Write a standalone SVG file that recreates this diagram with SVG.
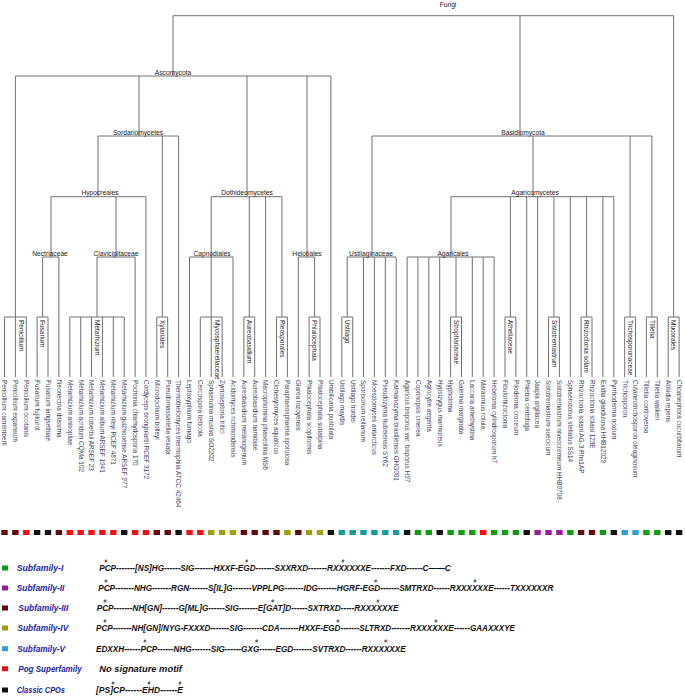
<svg xmlns="http://www.w3.org/2000/svg" width="685" height="696" viewBox="0 0 685 696">
<style>
.e{fill:none;stroke:#707070;stroke-width:1}
.in{font-family:"Liberation Sans",Arial,sans-serif;font-size:6.7px;fill:#222;text-anchor:middle}
.gl{font-family:"Liberation Sans",Arial,sans-serif;font-size:6.5px;fill:#222}
.leaf{font-family:"Liberation Sans",Arial,sans-serif;font-size:6.4px;fill:#3e4466}
.lg{font-family:"Liberation Sans",Arial,sans-serif;font-size:9px;font-weight:bold;font-style:italic;fill:#2424a0}
.mt{font-family:"Liberation Sans",Arial,sans-serif;font-size:9px;font-weight:bold;font-style:italic;fill:#111}
.hs{font-family:"Liberation Sans",Arial,sans-serif;font-size:5px;fill:#111;text-anchor:middle}
.M{fill:#620808}.R{fill:#fe0a0a}.K{fill:#111}.O{fill:#a09e00}.T{fill:#129c9c}.G{fill:#0c9c0c}.P{fill:#9c189c}.B{fill:#2a9fd8}
</style>
<rect width="685" height="696" fill="#fff"/>
<g id="connectors">
<path class="e" d="M173,15.7H673.6M173,15.7V76M520,15.7V136M673.6,15.7V317"/>
<path class="e" d="M15.4,76H330.9M15.4,76V317M139,76V136M247,76V196.7M307,76V257M330.9,76V377"/>
<path class="e" d="M4.5,317H26.3M4.5,317V377M15.4,317V377M26.3,317V377"/>
<path class="e" d="M98,136H178.6M98,136V196.7M162.3,136V317M178.6,136V377"/>
<path class="e" d="M51,196.7H145.9M51,196.7V257M116,196.7V257M145.9,196.7V377"/>
<path class="e" d="M42.6,257H58.9M42.6,257V317M58.9,257V377M37.1,317H48M37.1,317V377M48,317V377"/>
<path class="e" d="M97,257H135.1M97,257V317M135.1,257V377M69.8,317H124.2M69.8,317V377M80.7,317V377M91.5,317V377M102.4,317V377M113.3,317V377M124.2,317V377"/>
<path class="e" d="M156.8,317H167.7M156.8,317V377M167.7,317V377"/>
<path class="e" d="M211.2,196.7H281.9M211.2,196.7V257M249.3,196.7V317M265.6,196.7V377M281.9,196.7V317"/>
<path class="e" d="M189.5,257H233M189.5,257V377M211.2,257V317M233,257V377M200.3,317H222.1M200.3,317V377M211.2,317V377M222.1,317V377"/>
<path class="e" d="M243.9,317H254.7M243.9,317V377M254.7,317V377M276.5,317H287.4M276.5,317V377M287.4,317V377"/>
<path class="e" d="M298.3,257H314.6M298.3,257V377M314.6,257V317M309.1,317H320M309.1,317V377M320,317V377"/>
<path class="e" d="M372,136H651.9M372,136V257M533,136V196.7M630.1,136V317M651.9,136V317"/>
<path class="e" d="M347.2,257H396.2M347.2,257V317M363.5,257V377M374.4,257V377M385.3,257V377M396.2,257V377M341.8,317H352.7M341.8,317V377M352.7,317V377"/>
<path class="e" d="M451,196.7H613.8M451,196.7V257M510.4,196.7V317M526.7,196.7V377M537.6,196.7V377M553.9,196.7V317M570.3,196.7V377M586.6,196.7V317M602.9,196.7V377M613.8,196.7V377"/>
<path class="e" d="M407.1,257H494.1M407.1,257V377M417.9,257V377M428.8,257V377M439.7,257V377M456,257V317M472.3,257V377M483.2,257V377M494.1,257V377M450.6,317H461.5M450.6,317V377M461.5,317V377"/>
<path class="e" d="M505,317H515.9M505,317V377M515.9,317V377M548.5,317H559.4M548.5,317V377M559.4,317V377M581.1,317H592M581.1,317V377M592,317V377"/>
<path class="e" d="M624.7,317H635.5M624.7,317V377M635.5,317V377M646.4,317H657.3M646.4,317V377M657.3,317V377M668.2,317H679.1M668.2,317V377M679.1,317V377"/>
</g>
<g id="node-fungi"><text class="in" x="448" y="7">Fungi</text></g>
<g id="node-ascomycota"><text class="in" x="173" y="74.5">Ascomycota</text></g>
<g id="node-basidiomycota"><text class="in" x="523" y="134.5">Basidiomycota</text></g>
<g id="node-sordariomycetes"><text class="in" x="138" y="134.5">Sordariomycetes</text></g>
<g id="node-hypocreales"><text class="in" x="100" y="195.2">Hypocreales</text></g>
<g id="node-dothideomycetes"><text class="in" x="247" y="195.2">Dothideomycetes</text></g>
<g id="node-agaricomycetes"><text class="in" x="535" y="195.2">Agaricomycetes</text></g>
<g id="node-nectriaceae"><text class="in" x="50" y="255.5">Nectriaceae</text></g>
<g id="node-clavicipitaceae"><text class="in" x="116" y="255.5">Clavicipitaceae</text></g>
<g id="node-capnodiales"><text class="in" x="212" y="255.5">Capnodiales</text></g>
<g id="node-helotiales"><text class="in" x="307" y="255.5">Helotiales</text></g>
<g id="node-ustilaginaceae"><text class="in" x="371" y="255.5">Ustilaginaceae</text></g>
<g id="node-agaricales"><text class="in" x="453" y="255.5">Agaricales</text></g>
<g id="group-labels">
<g id="node-penicillium"><text class="gl" transform="translate(18.6,320) rotate(90)">Penicillium</text></g>
<g id="node-fusarium"><text class="gl" transform="translate(40.4,320) rotate(90)">Fusarium</text></g>
<g id="node-metarhizium"><text class="gl" transform="translate(94.8,320) rotate(90)">Metarhizium</text></g>
<g id="node-xylariales"><text class="gl" transform="translate(160.1,320) rotate(90)">Xylariales</text></g>
<g id="node-mycosphaerellaceae"><text class="gl" transform="translate(214.5,320) rotate(90)">Mycosphaerellaceae</text></g>
<g id="node-aureobasidium"><text class="gl" transform="translate(247.1,320) rotate(90)">Aureobasidium</text></g>
<g id="node-pleosporales"><text class="gl" transform="translate(279.7,320) rotate(90)">Pleosporales</text></g>
<g id="node-phialocephala"><text class="gl" transform="translate(312.4,320) rotate(90)">Phialocephala</text></g>
<g id="node-ustilago"><text class="gl" transform="translate(345,320) rotate(90)">Ustilago</text></g>
<g id="node-strophariaceae"><text class="gl" transform="translate(453.8,320) rotate(90)">Strophariaceae</text></g>
<g id="node-atheliaceae"><text class="gl" transform="translate(508.2,320) rotate(90)">Atheliaceae</text></g>
<g id="node-sistotremastrum"><text class="gl" transform="translate(551.7,320) rotate(90)">Sistotremastrum</text></g>
<g id="node-rhizoctonia"><text class="gl" transform="translate(584.4,320) rotate(90)">Rhizoctonia solani</text></g>
<g id="node-trichosporonaceae"><text class="gl" transform="translate(627.9,320) rotate(90)">Trichosporonaceae</text></g>
<g id="node-tilletia"><text class="gl" transform="translate(649.7,320) rotate(90)">Tilletia</text></g>
<g id="node-mucorales"><text class="gl" transform="translate(671.4,320) rotate(90)">Mucorales</text></g>
</g>
<g id="leaves">
<g id="leaf-00"><text class="leaf" transform="translate(2.3,380) rotate(90)">Penicillium camemberti</text></g>
<g id="leaf-01"><text class="leaf" transform="translate(13.2,380) rotate(90)">Penicillium expansum</text></g>
<g id="leaf-02"><text class="leaf" transform="translate(24.1,380) rotate(90)">Penicillium occitanis</text></g>
<g id="leaf-03"><text class="leaf" transform="translate(34.9,380) rotate(90)">Fusarium fujikuroi</text></g>
<g id="leaf-04"><text class="leaf" transform="translate(45.8,380) rotate(90)">Fusarium langsethiae</text></g>
<g id="leaf-05"><text class="leaf" transform="translate(56.7,380) rotate(90)">Neonectria ditissima</text></g>
<g id="leaf-06"><text class="leaf" transform="translate(67.6,380) rotate(90)">Metarhizium anisopliae</text></g>
<g id="leaf-07"><text class="leaf" transform="translate(78.5,380) rotate(90)">Metarhizium acridum CQMa 102</text></g>
<g id="leaf-08"><text class="leaf" transform="translate(89.3,380) rotate(90)">Metarhizium robertsii ARSEF 23</text></g>
<g id="leaf-09"><text class="leaf" transform="translate(100.2,380) rotate(90)">Metarhizium album ARSEF 1941</text></g>
<g id="leaf-10"><text class="leaf" transform="translate(111.1,380) rotate(90)">Metarhizium rileyi RCEF 4871</text></g>
<g id="leaf-11"><text class="leaf" transform="translate(122,380) rotate(90)">Metarhizium guizhouense ARSEF 977</text></g>
<g id="leaf-12"><text class="leaf" transform="translate(132.9,380) rotate(90)">Pochonia chlamydosporia 170</text></g>
<g id="leaf-13"><text class="leaf" transform="translate(143.7,380) rotate(90)">Cordyceps brongniartii RCEF 3172</text></g>
<g id="leaf-14"><text class="leaf" transform="translate(154.6,380) rotate(90)">Microdochium bolleyi</text></g>
<g id="leaf-15"><text class="leaf" transform="translate(165.5,380) rotate(90)">Pseudomassariella vexata</text></g>
<g id="leaf-16"><text class="leaf" transform="translate(176.4,380) rotate(90)">Thermothelomyces thermophila ATCC 42464</text></g>
<g id="leaf-17"><text class="leaf" transform="translate(187.3,380) rotate(90)">Leptoxyphium fumago</text></g>
<g id="leaf-18"><text class="leaf" transform="translate(198.1,380) rotate(90)">Cercospora beticola</text></g>
<g id="leaf-19"><text class="leaf" transform="translate(209,380) rotate(90)">Sphaerulina musiva SO2202</text></g>
<g id="leaf-20"><text class="leaf" transform="translate(219.9,380) rotate(90)">Zymoseptoria tritici</text></g>
<g id="leaf-21"><text class="leaf" transform="translate(230.8,380) rotate(90)">Acidomyces richmondensis</text></g>
<g id="leaf-22"><text class="leaf" transform="translate(241.7,380) rotate(90)">Aureobasidium melanogenum</text></g>
<g id="leaf-23"><text class="leaf" transform="translate(252.5,380) rotate(90)">Aureobasidium namibiae</text></g>
<g id="leaf-24"><text class="leaf" transform="translate(263.4,380) rotate(90)">Macrophomina phaseolina MS6</text></g>
<g id="leaf-25"><text class="leaf" transform="translate(274.3,380) rotate(90)">Clohesyomyces aquaticus</text></g>
<g id="leaf-26"><text class="leaf" transform="translate(285.2,380) rotate(90)">Paraphaeosphaeria sporulosa</text></g>
<g id="leaf-27"><text class="leaf" transform="translate(296.1,380) rotate(90)">Glarea lozoyensis</text></g>
<g id="leaf-28"><text class="leaf" transform="translate(306.9,380) rotate(90)">Phialocephala scopiformis</text></g>
<g id="leaf-29"><text class="leaf" transform="translate(317.8,380) rotate(90)">Phialocephala subalpina</text></g>
<g id="leaf-30"><text class="leaf" transform="translate(328.7,380) rotate(90)">Umbilicaria pustulata</text></g>
<g id="leaf-31"><text class="leaf" transform="translate(339.6,380) rotate(90)">Ustilago maydis</text></g>
<g id="leaf-32"><text class="leaf" transform="translate(350.5,380) rotate(90)">Ustilago hordei</text></g>
<g id="leaf-33"><text class="leaf" transform="translate(361.3,380) rotate(90)">Sporisorium reilianum</text></g>
<g id="leaf-34"><text class="leaf" transform="translate(372.2,380) rotate(90)">Moesziomyces antarcticus</text></g>
<g id="leaf-35"><text class="leaf" transform="translate(383.1,380) rotate(90)">Pseudozyma hubeiensis SY62</text></g>
<g id="leaf-36"><text class="leaf" transform="translate(394,380) rotate(90)">Kalmanozyma brasiliensis GHG001</text></g>
<g id="leaf-37"><text class="leaf" transform="translate(404.9,380) rotate(90)">Agaricus bisporus var. bisporus H97</text></g>
<g id="leaf-38"><text class="leaf" transform="translate(415.7,380) rotate(90)">Coprinopsis cinerea</text></g>
<g id="leaf-39"><text class="leaf" transform="translate(426.6,380) rotate(90)">Agrocybe aegerita</text></g>
<g id="leaf-40"><text class="leaf" transform="translate(437.5,380) rotate(90)">Hypsizygus marmoreus</text></g>
<g id="leaf-41"><text class="leaf" transform="translate(448.4,380) rotate(90)">Hypholoma</text></g>
<g id="leaf-42"><text class="leaf" transform="translate(459.3,380) rotate(90)">Galerina marginata</text></g>
<g id="leaf-43"><text class="leaf" transform="translate(470.1,380) rotate(90)">Laccaria amethystina</text></g>
<g id="leaf-44"><text class="leaf" transform="translate(481,380) rotate(90)">Marasmius rotula</text></g>
<g id="leaf-45"><text class="leaf" transform="translate(491.9,380) rotate(90)">Hebeloma cylindrosporum h7</text></g>
<g id="leaf-46"><text class="leaf" transform="translate(502.8,380) rotate(90)">Fibulorhizoctonia</text></g>
<g id="leaf-47"><text class="leaf" transform="translate(513.7,380) rotate(90)">Piloderma croceum</text></g>
<g id="leaf-48"><text class="leaf" transform="translate(524.5,380) rotate(90)">Phlebia centrifuga</text></g>
<g id="leaf-49"><text class="leaf" transform="translate(535.4,380) rotate(90)">Jaapia argillacea</text></g>
<g id="leaf-50"><text class="leaf" transform="translate(546.3,380) rotate(90)">Sistotremastrum suecicum</text></g>
<g id="leaf-51"><text class="leaf" transform="translate(557.2,380) rotate(90)">Sistotremastrum niveocremeum HHB9708</text></g>
<g id="leaf-52"><text class="leaf" transform="translate(568.1,380) rotate(90)">Sphaerobolus stellatus SS14</text></g>
<g id="leaf-53"><text class="leaf" transform="translate(578.9,380) rotate(90)">Rhizoctonia solani AG-3 Rhs1AP</text></g>
<g id="leaf-54"><text class="leaf" transform="translate(589.8,380) rotate(90)">Rhizoctonia solani 123E</text></g>
<g id="leaf-55"><text class="leaf" transform="translate(600.7,380) rotate(90)">Exidia glandulosa HHB12029</text></g>
<g id="leaf-56"><text class="leaf" transform="translate(611.6,380) rotate(90)">Pyrrhoderma noxium</text></g>
<g id="leaf-57"><text class="leaf" transform="translate(622.5,380) rotate(90)">Trichosporon</text></g>
<g id="leaf-58"><text class="leaf" transform="translate(633.3,380) rotate(90)">Cutaneotrichosporon oleaginosum</text></g>
<g id="leaf-59"><text class="leaf" transform="translate(644.2,380) rotate(90)">Tilletia controversa</text></g>
<g id="leaf-60"><text class="leaf" transform="translate(655.1,380) rotate(90)">Tilletia walkeri</text></g>
<g id="leaf-61"><text class="leaf" transform="translate(666,380) rotate(90)">Absidia repens</text></g>
<g id="leaf-62"><text class="leaf" transform="translate(676.9,380) rotate(90)">Choanephora cucurbitarum</text></g>
</g>
<g id="color-strip">
<rect class="M" x="1.3" y="530" width="6.4" height="5"/>
<rect class="M" x="12.2" y="530" width="6.4" height="5"/>
<rect class="R" x="23.1" y="530" width="6.4" height="5"/>
<rect class="K" x="33.9" y="530" width="6.4" height="5"/>
<rect class="K" x="44.8" y="530" width="6.4" height="5"/>
<rect class="M" x="55.7" y="530" width="6.4" height="5"/>
<rect class="R" x="66.6" y="530" width="6.4" height="5"/>
<rect class="R" x="77.5" y="530" width="6.4" height="5"/>
<rect class="R" x="88.3" y="530" width="6.4" height="5"/>
<rect class="R" x="99.2" y="530" width="6.4" height="5"/>
<rect class="R" x="110.1" y="530" width="6.4" height="5"/>
<rect class="K" x="121" y="530" width="6.4" height="5"/>
<rect class="R" x="131.9" y="530" width="6.4" height="5"/>
<rect class="R" x="142.7" y="530" width="6.4" height="5"/>
<rect class="M" x="153.6" y="530" width="6.4" height="5"/>
<rect class="M" x="164.5" y="530" width="6.4" height="5"/>
<rect class="K" x="175.4" y="530" width="6.4" height="5"/>
<rect class="R" x="186.3" y="530" width="6.4" height="5"/>
<rect class="R" x="197.1" y="530" width="6.4" height="5"/>
<rect class="O" x="208" y="530" width="6.4" height="5"/>
<rect class="O" x="218.9" y="530" width="6.4" height="5"/>
<rect class="O" x="229.8" y="530" width="6.4" height="5"/>
<rect class="M" x="240.7" y="530" width="6.4" height="5"/>
<rect class="M" x="251.5" y="530" width="6.4" height="5"/>
<rect class="M" x="262.4" y="530" width="6.4" height="5"/>
<rect class="M" x="273.3" y="530" width="6.4" height="5"/>
<rect class="O" x="284.2" y="530" width="6.4" height="5"/>
<rect class="M" x="295.1" y="530" width="6.4" height="5"/>
<rect class="O" x="305.9" y="530" width="6.4" height="5"/>
<rect class="O" x="316.8" y="530" width="6.4" height="5"/>
<rect class="K" x="327.7" y="530" width="6.4" height="5"/>
<rect class="T" x="338.6" y="530" width="6.4" height="5"/>
<rect class="T" x="349.5" y="530" width="6.4" height="5"/>
<rect class="T" x="360.3" y="530" width="6.4" height="5"/>
<rect class="T" x="371.2" y="530" width="6.4" height="5"/>
<rect class="T" x="382.1" y="530" width="6.4" height="5"/>
<rect class="T" x="393" y="530" width="6.4" height="5"/>
<rect class="K" x="403.9" y="530" width="6.4" height="5"/>
<rect class="G" x="414.7" y="530" width="6.4" height="5"/>
<rect class="G" x="425.6" y="530" width="6.4" height="5"/>
<rect class="K" x="436.5" y="530" width="6.4" height="5"/>
<rect class="G" x="447.4" y="530" width="6.4" height="5"/>
<rect class="G" x="458.3" y="530" width="6.4" height="5"/>
<rect class="G" x="469.1" y="530" width="6.4" height="5"/>
<rect class="R" x="480" y="530" width="6.4" height="5"/>
<rect class="G" x="490.9" y="530" width="6.4" height="5"/>
<rect class="G" x="501.8" y="530" width="6.4" height="5"/>
<rect class="G" x="512.7" y="530" width="6.4" height="5"/>
<rect class="K" x="523.5" y="530" width="6.4" height="5"/>
<rect class="P" x="534.4" y="530" width="6.4" height="5"/>
<rect class="P" x="545.3" y="530" width="6.4" height="5"/>
<rect class="P" x="556.2" y="530" width="6.4" height="5"/>
<rect class="G" x="567.1" y="530" width="6.4" height="5"/>
<rect class="M" x="577.9" y="530" width="6.4" height="5"/>
<rect class="M" x="588.8" y="530" width="6.4" height="5"/>
<rect class="G" x="599.7" y="530" width="6.4" height="5"/>
<rect class="K" x="610.6" y="530" width="6.4" height="5"/>
<rect class="B" x="621.5" y="530" width="6.4" height="5"/>
<rect class="B" x="632.3" y="530" width="6.4" height="5"/>
<rect class="G" x="643.2" y="530" width="6.4" height="5"/>
<rect class="G" x="654.1" y="530" width="6.4" height="5"/>
<rect class="K" x="665" y="530" width="6.4" height="5"/>
<rect class="K" x="675.9" y="530" width="6.4" height="5"/>
</g>
<g id="legend">
<g id="legend-sf1">
<rect class="G" x="2" y="565.5" width="6" height="5"/>
<text class="lg" x="16.7" y="571" textLength="46.7" lengthAdjust="spacingAndGlyphs">Subfamily-I</text>
<text class="mt" x="99.3" y="571" textLength="351.4" lengthAdjust="spacingAndGlyphs">PCP-------[NS]HG------SIG-------HXXF-EGD-------SXXRXD-------RXXXXXXE-------FXD------C——C</text>
<text class="hs" x="106" y="562.5">#</text><text class="hs" x="246.7" y="562.5">#</text><text class="hs" x="343" y="562.5">#</text>
</g>
<g id="legend-sf2">
<rect class="P" x="2" y="585.5" width="6" height="5"/>
<text class="lg" x="16.7" y="591" textLength="47.7" lengthAdjust="spacingAndGlyphs">Subfamily-II</text>
<text class="mt" x="98.3" y="591" textLength="455" lengthAdjust="spacingAndGlyphs">PCP-------NHG-------RGN-------S[IL]G-------VPPLPG-------IDG-------HGRF-EGD-------SMTRXD------RXXXXXXE------TXXXXXXR</text>
<text class="hs" x="106" y="582.5">#</text><text class="hs" x="375.7" y="582.5">#</text><text class="hs" x="475" y="582.5">#</text>
</g>
<g id="legend-sf3">
<rect class="M" x="2" y="605.5" width="6" height="5"/>
<text class="lg" x="18.3" y="611" textLength="50" lengthAdjust="spacingAndGlyphs">Subfamily-III</text>
<text class="mt" x="96.7" y="611" textLength="301.7" lengthAdjust="spacingAndGlyphs">PCP-------NH[GN]------G[ML]G------SIG-------E[GAT]D------SXTRXD-----RXXXXXXE</text>
<text class="hs" x="105" y="602.5">#</text><text class="hs" x="272.7" y="602.5">#</text><text class="hs" x="378" y="602.5">#</text>
</g>
<g id="legend-sf4">
<rect class="O" x="2" y="625.5" width="6" height="5"/>
<text class="lg" x="17.3" y="631" textLength="51" lengthAdjust="spacingAndGlyphs">Subfamily-IV</text>
<text class="mt" x="96" y="631" textLength="419" lengthAdjust="spacingAndGlyphs">PCP-------NH[GN]/NYG-FXXXD-------SIG-------CDA-------HXXF-EGD-------SLTRXD-------RXXXXXXE------GAAXXXYE</text>
<text class="hs" x="105" y="622.5">#</text><text class="hs" x="338" y="622.5">#</text><text class="hs" x="436" y="622.5">#</text>
</g>
<g id="legend-sf5">
<rect class="B" x="2" y="646.2" width="6" height="5"/>
<text class="lg" x="17.3" y="651.7" textLength="47.7" lengthAdjust="spacingAndGlyphs">Subfamily-V</text>
<text class="mt" x="96" y="651.7" textLength="309.7" lengthAdjust="spacingAndGlyphs">EDXXH------PCP------NHG-------SIG------GXG------EGD-------SVTRXD------RXXXXXXE</text>
<text class="hs" x="145" y="643.2">#</text><text class="hs" x="256.7" y="643.2">#</text><text class="hs" x="385.7" y="643.2">#</text>
</g>
<g id="legend-pog">
<rect class="R" x="2" y="666.2" width="6" height="5"/>
<text class="lg" x="18.3" y="671.7" textLength="63.4" lengthAdjust="spacingAndGlyphs">Pog Superfamily</text>
<text class="mt" x="99.3" y="671.7" textLength="82.7" lengthAdjust="spacingAndGlyphs">No signature motif</text>
</g>
<g id="legend-classic">
<rect class="K" x="2" y="687.5" width="6" height="5"/>
<text class="lg" x="16.7" y="693" textLength="48.3" lengthAdjust="spacingAndGlyphs">Classic CPOs</text>
<text class="mt" x="96" y="693" textLength="87" lengthAdjust="spacingAndGlyphs">[PS]CP------EHD------E</text>
<text class="hs" x="113" y="684.5">#</text><text class="hs" x="149" y="684.5">#</text><text class="hs" x="180" y="684.5">#</text>
</g>
</g>
</svg>
